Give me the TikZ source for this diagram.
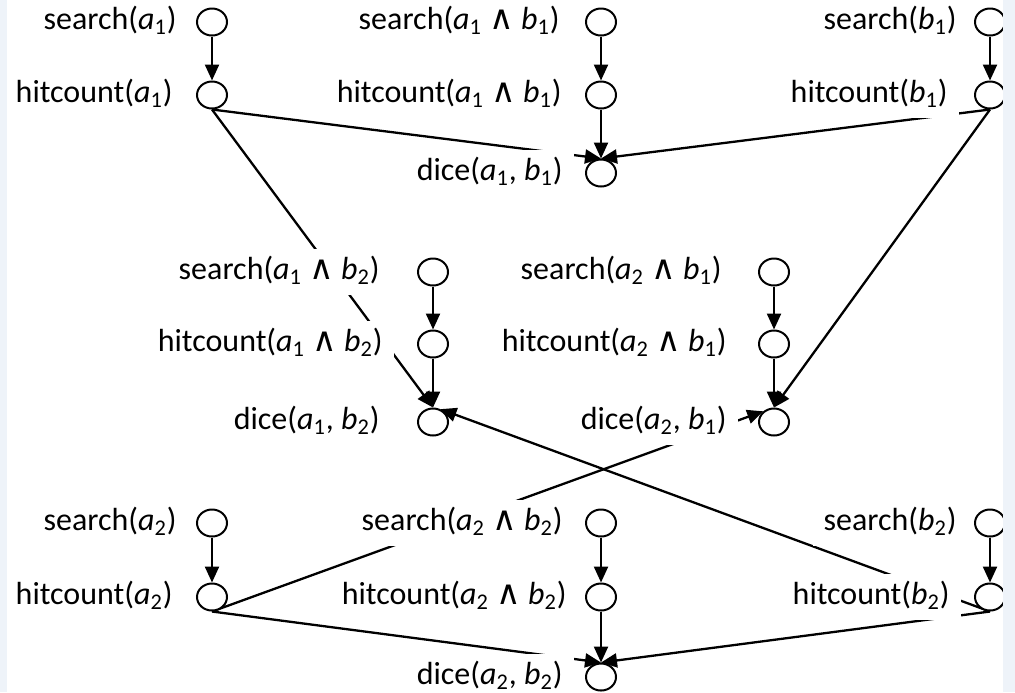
\documentclass[tikz,border=0pt]{standalone}
\usepackage{fontspec}
\setmainfont{Carlito}
\newfontfamily\opfont{DejaVu Sans}[Scale=1.05]
\usetikzlibrary{arrows.meta,shapes.geometric}
\newcommand{\va}[1]{\textit{a}\textsubscript{#1}}
\newcommand{\vb}[1]{\textit{b}\textsubscript{#1}}
\newcommand{\conj}{{\opfont ∧}}
\pgfdeclarelayer{paper}
\pgfdeclarelayer{edges}
\pgfsetlayers{paper,edges,main}
\definecolor{stripcol}{RGB}{238,243,249}
\begin{document}
\begin{tikzpicture}[x=0.5pt,y=-0.5pt,
  dot/.style={ellipse, draw, line width=1pt, fill=white,
    minimum width=15pt, minimum height=13.5pt, inner sep=0pt},
  lbl/.style={anchor=east, fill=white, inner xsep=5.5pt, inner ysep=4pt,
    text height=11pt, text depth=4pt, font=\fontsize{16}{19}\selectfont},
  link/.style={line width=1.15pt, -{Triangle[length=8pt,width=7pt]}}]
\useasboundingbox (0,0) rectangle (1015,692);
\begin{pgfonlayer}{paper}
\fill[white] (0,0) rectangle (1015,692);
\end{pgfonlayer}

% upper block: a1, a1 and b1, b1
\node[dot] (sa1)   at (212,22)  {};
\node[dot] (ha1)   at (212,95)  {};
\node[dot] (sab11) at (601,22)  {};
\node[dot] (hab11) at (601,95)  {};
\node[dot] (d11)   at (601,173) {};
\node[dot] (sb1)   at (990,22)  {};
\node[dot] (hb1)   at (990,95)  {};
\node[lbl] (sa1-l)   at (188,22)  {search(\va1)};
\node[lbl] (ha1-l)   at (184,95)  {hitcount(\va1)};
\node[lbl] (sab11-l) at (571,22)  {search(\va1 \conj{} \vb1)};
\node[lbl] (hab11-l) at (573,95)  {hitcount(\va1 \conj{} \vb1)};
\node[lbl] (d11-l)   at (574,173) {dice(\va1, \vb1)};
\node[lbl] (sb1-l)   at (968,22)  {search(\vb1)};
\node[lbl] (hb1-l)   at (959,95)  {hitcount(\vb1)};

% middle block: mixed pairs
\node[dot] (sa1b2) at (433,272) {};
\node[dot] (ha1b2) at (433,344) {};
\node[dot] (d12)   at (433,422) {};
\node[dot] (sa2b1) at (774,272) {};
\node[dot] (ha2b1) at (774,344) {};
\node[dot] (d21)   at (774,422) {};
\node[lbl] (sa1b2-l) at (391,272) {search(\va1 \conj{} \vb2)};
\node[lbl] (ha1b2-l) at (394,344) {hitcount(\va1 \conj{} \vb2)};
\node[lbl] (d12-l)   at (391,422) {dice(\va1, \vb2)};
\node[lbl] (sa2b1-l) at (733,272) {search(\va2 \conj{} \vb1)};
\node[lbl] (ha2b1-l) at (738,344) {hitcount(\va2 \conj{} \vb1)};
\node[lbl] (d21-l)   at (738,422) {dice(\va2, \vb1)};

% lower block: a2, a2 and b2, b2
\node[dot] (sa2)   at (212,523) {};
\node[dot] (ha2)   at (212,597) {};
\node[dot] (sab22) at (601,523) {};
\node[dot] (hab22) at (601,597) {};
\node[dot] (d22)   at (601,677) {};
\node[dot] (sb2)   at (990,523) {};
\node[dot] (hb2)   at (990,597) {};
\node[lbl] (sa2-l)   at (188,523) {search(\va2)};
\node[lbl] (ha2-l)   at (184,597) {hitcount(\va2)};
\node[lbl] (sab22-l) at (574,523) {search(\va2 \conj{} \vb2)};
\node[lbl] (hab22-l) at (578,597) {hitcount(\va2 \conj{} \vb2)};
\node[lbl] (d22-l)   at (574,677) {dice(\va2, \vb2)};
\node[lbl] (sb2-l)   at (968,523) {search(\vb2)};
\node[lbl] (hb2-l)   at (961,597) {hitcount(\vb2)};

% connectors run beneath the labels
\begin{pgfonlayer}{edges}
\draw[link] (sa1) -- (ha1);
\draw[link] (sab11) -- (hab11);
\draw[link] (sb1) -- (hb1);
\draw[link] (hab11) -- (d11);
\draw[link] (ha1.south) -- (d11.north);
\draw[link] (hb1.south) -- (d11.north);
\draw[link] (sa1b2) -- (ha1b2);
\draw[link] (ha1b2) -- (d12);
\draw[link] (sa2b1) -- (ha2b1);
\draw[link] (ha2b1) -- (d21);
\draw[link] (ha1.south) -- (d12.north);
\draw[link] (hb1.south) -- (d21.north);
\draw[link] (hb2.south) -- (d12.60);
\draw[link] (ha2.south) -- (d21.135);
\draw[link] (sa2) -- (ha2);
\draw[link] (sab22) -- (hab22);
\draw[link] (sb2) -- (hb2);
\draw[link] (hab22) -- (d22);
\draw[link] (ha2.south) -- (d22.north);
\draw[link] (hb2.south) -- (d22.north);
\end{pgfonlayer}

% side margins
\fill[stripcol] (0,0) rectangle (7,692);
\fill[stripcol] (1003,0) rectangle (1015,692);
\end{tikzpicture}
\end{document}
